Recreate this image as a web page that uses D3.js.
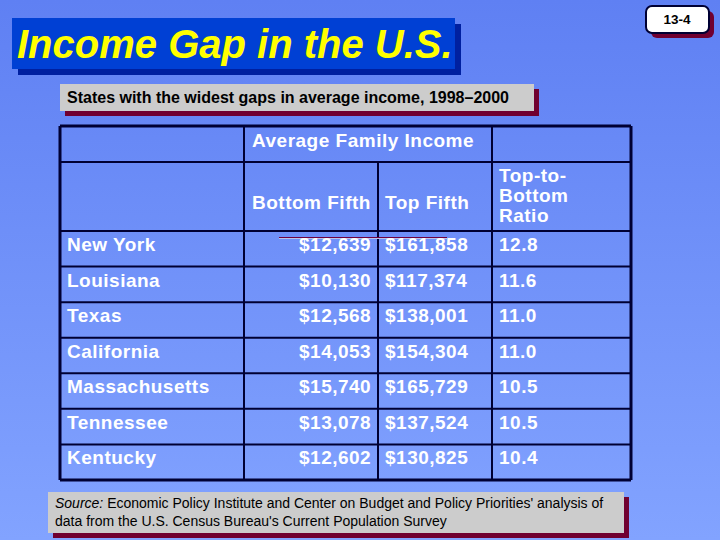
<!DOCTYPE html>
<html>
<head>
<meta charset="utf-8">
<script src="https://cdn.jsdelivr.net/npm/d3@7"></script>
<style>
    html, body { margin: 0; padding: 0; overflow: hidden; }
    text { font-family: "Liberation Sans", Arial, sans-serif; }
</style>
</head>
<body>
<script>
var states = ['New York', 'Louisiana', 'Texas', 'California', 'Massachusetts', 'Tennessee', 'Kentucky'];
var bottomFifth = [12639, 10130, 12568, 14053, 15740, 13078, 12602];
var topFifth = [161858, 117374, 138001, 154304, 165729, 137524, 130825];
var ratio = [12.8, 11.6, 11.0, 11.0, 10.5, 10.5, 10.4];
var ratioHeader = ['Top-to-', 'Bottom', 'Ratio'];
var columnEdges = [60, 244, 378, 492, 631];
var headerEdges = [126, 162, 231];

var width = 720,
    height = 540;

var svg = d3.select('body')
    .append('svg')
    .attr('width', width)
    .attr('height', height)
    .style('display', 'block');

var grad = svg.append('defs')
    .append('linearGradient')
    .attr('id', 'bg')
    .attr('x1', 0).attr('y1', 0)
    .attr('x2', 0).attr('y2', 1);
grad.append('stop').attr('offset', '0%').attr('stop-color', '#5f80f3');
grad.append('stop').attr('offset', '100%').attr('stop-color', '#82a3ff');

svg.append('rect')
    .attr('width', width)
    .attr('height', height)
    .attr('fill', 'url(#bg)');

// box with a hard drop shadow
function box(x, y, w, h, fill, shadow, off) {
    svg.append('rect').attr('x', x + off).attr('y', y + off)
        .attr('width', w).attr('height', h).attr('fill', shadow);
    svg.append('rect').attr('x', x).attr('y', y)
        .attr('width', w).attr('height', h).attr('fill', fill);
}

function label(x, y, str, size, fill, weight) {
    return svg.append('text')
        .attr('x', x)
        .attr('y', y)
        .attr('fill', fill)
        .attr('font-size', size)
        .attr('font-weight', weight)
        .text(str);
}

// title
box(12, 18, 443, 51, '#0040d4', '#0020a0', 6);
label(17, 58, 'Income Gap in the U.S.', 40, '#ffff00', 'bold')
    .attr('font-style', 'italic');

// subtitle
box(60, 84, 474, 27, '#cccccc', '#700030', 5);
label(67, 103, 'States with the widest gaps in average income, 1998\u20132000', 16, '#000000', 'bold');

// page badge
svg.append('rect').attr('x', 651).attr('y', 11).attr('width', 63).attr('height', 27)
    .attr('rx', 6).attr('fill', '#700030');
svg.append('rect').attr('x', 646).attr('y', 6).attr('width', 63).attr('height', 27)
    .attr('rx', 6).attr('fill', '#ffffff').attr('stroke', '#000033').attr('stroke-width', 2);
label(677, 24, '13-4', 13.5, '#000000', 'bold').attr('text-anchor', 'middle');

// table
var y = d3.scaleBand()
    .domain(states)
    .range([231, 480]);

var tableGroup = svg.append('g');
var rowEdges = headerEdges.concat(states.map(function (d) { return y(d) + y.step(); }));

tableGroup.selectAll('line.row')
    .data(rowEdges)
    .enter()
    .append('line')
    .attr('class', 'row')
    .attr('x1', columnEdges[0])
    .attr('x2', columnEdges[4])
    .attr('y1', function (d) { return d; })
    .attr('y2', function (d) { return d; })
    .attr('stroke', '#000033')
    .attr('stroke-width', function (d, i) { return (i === 0 || i === rowEdges.length - 1) ? 3 : 2; });

tableGroup.selectAll('line.col')
    .data(columnEdges)
    .enter()
    .append('line')
    .attr('class', 'col')
    .attr('x1', function (d) { return d; })
    .attr('x2', function (d) { return d; })
    .attr('y1', function (d, i) { return i === 2 ? headerEdges[1] : headerEdges[0]; })
    .attr('y2', 480)
    .attr('stroke', '#000033')
    .attr('stroke-width', function (d, i) { return (i === 0 || i === 4) ? 3 : 2; });

// stray rule under the header
svg.append('line').attr('x1', 279).attr('x2', 447).attr('y1', 237.5).attr('y2', 237.5)
    .attr('stroke', '#700040').attr('stroke-width', 1);
svg.append('line').attr('x1', 279).attr('x2', 447).attr('y1', 238.5).attr('y2', 238.5)
    .attr('stroke', '#b8c4ee').attr('stroke-width', 1);

var cellSize = 19;
var cellSpacing = '0.5px';

function cell(x, yPos, str) {
    return label(x, yPos, str, cellSize, '#ffffff', 'bold').attr('letter-spacing', cellSpacing);
}

cell(252, 147, 'Average Family Income');
cell(252, 209, 'Bottom Fifth');
cell(385, 209, 'Top Fifth');
ratioHeader.forEach(function (d, i) {
    cell(499, 182 + i * 20, d);
});

var dollars = d3.format('$,');

states.forEach(function (d, i) {
    var base = y(d) + 20;
    cell(67, base, d);
    cell(299, base, dollars(bottomFifth[i]));
    cell(385, base, dollars(topFifth[i]));
    cell(499, base, ratio[i].toFixed(1));
});

// source note
box(48, 492, 576, 41, '#cccccc', '#700030', 5);
var note = svg.append('text')
    .attr('x', 55)
    .attr('y', 508)
    .attr('font-size', 14)
    .attr('fill', '#000000');
note.append('tspan').attr('font-style', 'italic').text('Source:');
note.append('tspan').text(' Economic Policy Institute and Center on Budget and Policy Priorities\' analysis of');
label(55, 526, 'data from the U.S. Census Bureau\'s Current Population Survey', 14, '#000000', 'normal');
</script>
</body>
</html>
